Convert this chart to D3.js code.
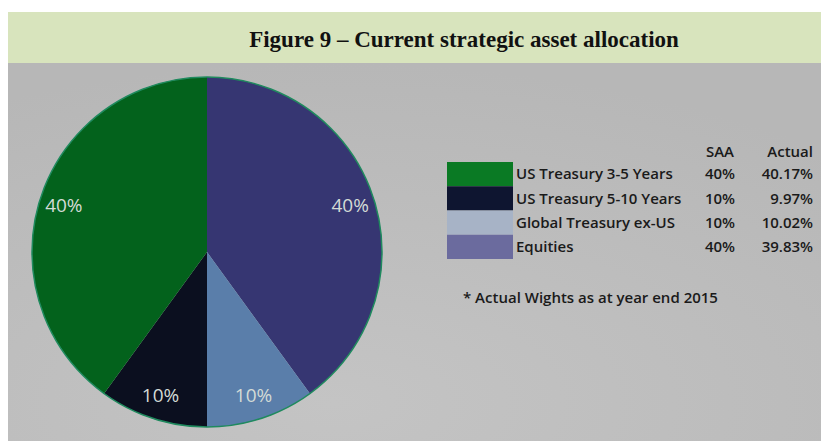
<html>
<head>
<meta charset="utf-8">
<script src="https://d3js.org/d3.v7.min.js"></script>
<style>
  body { margin:0; background:#ffffff; }
  text { font-family:"Open Sans", "DejaVu Sans", sans-serif; }
  .title { font-family:"Liberation Serif", "DejaVu Serif", serif; font-weight:bold; font-size:23px; fill:#111; }
  .slice-label { fill:#d3dbd6; font-size:19px; }
  .legend text { font-size:15px; font-weight:600; fill:#1a1a1a; }
</style>
</head>
<body>
<svg id="plot"></svg>
<script>

// data
var categories = ["US Treasury 3-5 Years", "US Treasury 5-10 Years", "Global Treasury ex-US", "Equities"];
var saaWeights = [40, 10, 10, 40];
var actualWeights = [40.17, 9.97, 10.02, 39.83];
var saaLabels = ["40%", "10%", "10%", "40%"];
var actualLabels = ["40.17%", "9.97%", "10.02%", "39.83%"];
var footnote = "* Actual Wights as at year end 2015";
var titleText = "Figure 9 \u2013 Current strategic asset allocation";

var screen = {width:821, height:441};

var svg = d3.select("#plot")
    .attr("width", screen.width)
    .attr("height", screen.height);

//header band + panel
svg.append("rect")
    .attr("x", 8).attr("y", 12)
    .attr("width", screen.width - 8).attr("height", 51)
    .attr("fill", "#d8e4bd");

var grad = svg.append("defs").append("radialGradient")
    .attr("id", "bg").attr("cx", "40%").attr("cy", "90%").attr("r", "90%");
grad.append("stop").attr("offset", "0%").attr("stop-color", "#c4c4c4");
grad.append("stop").attr("offset", "100%").attr("stop-color", "#b7b7b7");

svg.append("rect")
    .attr("x", 8).attr("y", 63)
    .attr("width", screen.width - 8).attr("height", screen.height - 63)
    .attr("fill", "url(#bg)");

svg.append("text")
    .classed("title", true)
    .attr("x", 464).attr("y", 47)
    .attr("text-anchor", "middle")
    .text(titleText);

//pie
var pieColor = d3.scaleOrdinal()
    .domain(categories)
    .range(["#03621c", "#0b0f1f", "#5a7eaa", "#363672"]);

var legendColor = d3.scaleOrdinal()
    .domain(categories)
    .range(["#0a7a24", "#0e1530", "#a7b3c6", "#6b6b9e"]);

var center = {x:207, y:252};
var radius = 175;

// order drawn clockwise from 12 o'clock: Equities, Global, US 5-10, US 3-5
var order = [3, 2, 1, 0];
var pie = d3.pie()
    .sort(null)
    .value(function(i) { return saaWeights[i]; });

var arc = d3.arc().innerRadius(0).outerRadius(radius);
var labelArc = d3.arc().innerRadius(radius * 0.86).outerRadius(radius * 0.86);

var g = svg.append("g")
    .attr("transform", "translate(" + center.x + "," + center.y + ")");

var slices = g.selectAll("g.slice")
    .data(pie(order))
    .enter()
    .append("g")
    .classed("slice", true);

slices.append("path")
    .attr("d", arc)
    .attr("fill", function(d) { return pieColor(categories[d.data]); });

g.append("circle")
    .attr("r", radius)
    .attr("fill", "none")
    .attr("stroke", "#1f8a5e")
    .attr("stroke-width", 1.5);

slices.append("text")
    .classed("slice-label", true)
    .attr("transform", function(d) { return "translate(" + labelArc.centroid(d) + ")"; })
    .attr("text-anchor", "middle")
    .attr("dy", "0.35em")
    .text(function(d) { return saaLabels[d.data]; });

//legend
var legend = svg.append("g").classed("legend", true);
var rowY = d3.scaleBand()
    .domain(categories)
    .range([162, 259]);

legend.append("text").attr("x", 720).attr("y", 157).attr("text-anchor", "middle").text("SAA");
legend.append("text").attr("x", 813).attr("y", 157).attr("text-anchor", "end").text("Actual");

var rows = legend.selectAll("g.row")
    .data(categories)
    .enter()
    .append("g")
    .classed("row", true);

rows.append("rect")
    .attr("x", 447)
    .attr("y", function(c) { return rowY(c); })
    .attr("width", 66)
    .attr("height", rowY.bandwidth())
    .attr("fill", function(c) { return legendColor(c); });

rows.append("text")
    .attr("x", 516)
    .attr("y", function(c) { return rowY(c) + rowY.bandwidth() / 2; })
    .attr("dy", "0.35em")
    .text(function(c) { return c; });

rows.append("text")
    .attr("x", 720)
    .attr("y", function(c) { return rowY(c) + rowY.bandwidth() / 2; })
    .attr("dy", "0.35em")
    .attr("text-anchor", "middle")
    .text(function(c, i) { return saaLabels[i]; });

rows.append("text")
    .attr("x", 813)
    .attr("y", function(c) { return rowY(c) + rowY.bandwidth() / 2; })
    .attr("dy", "0.35em")
    .attr("text-anchor", "end")
    .text(function(c, i) { return actualLabels[i]; });

legend.append("text")
    .attr("x", 463).attr("y", 303)
    .text(footnote);

</script>
</body>
</html>
